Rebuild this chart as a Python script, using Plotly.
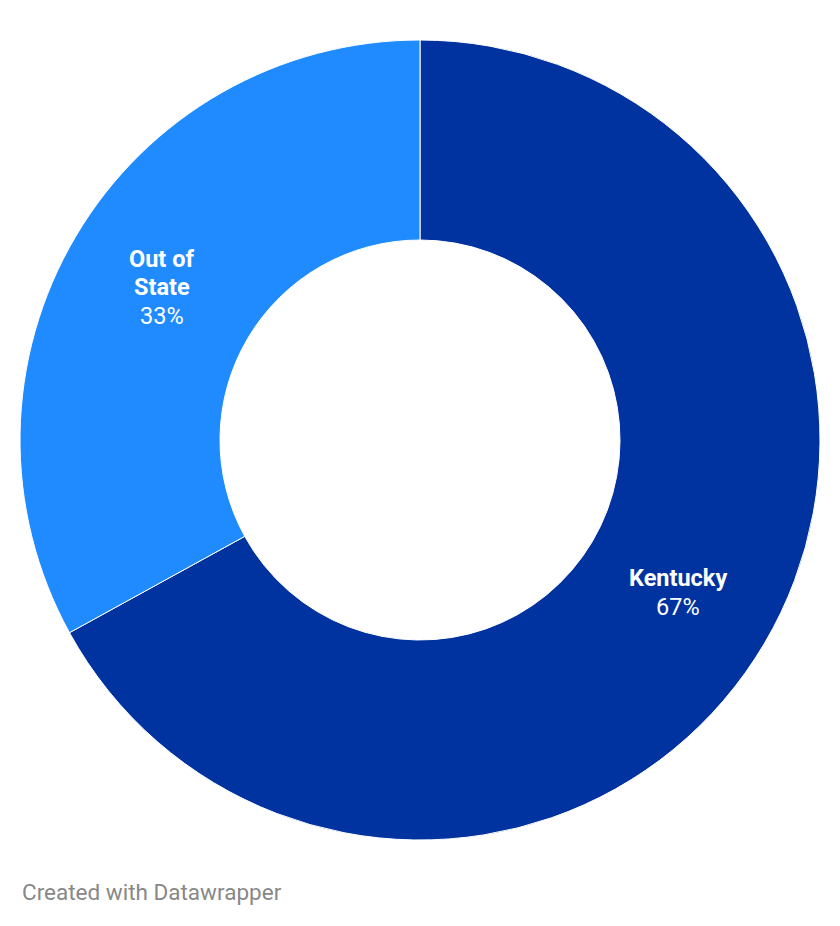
import math
import plotly.graph_objects as go

labels = ["Kentucky", "Out of State"]
label_lines = [["Kentucky"], ["Out of", "State"]]
values = [67, 33]
colors = ["#0033a0", "#1f8bff"]

HOLE = 0.5
LINE_H = 28.5  # px between label lines

fig = go.Figure()
fig.add_trace(go.Pie(
    labels=labels, values=values,
    hole=HOLE, sort=False, direction="clockwise", rotation=0,
    marker=dict(colors=colors, line=dict(color="white", width=1)),
    textinfo="none", hoverinfo="label+percent",
    domain=dict(x=[0, 1], y=[0, 1]),
    showlegend=False,
))

# labels centred in the ring, at each slice's mid-angle
total = sum(values)
cum = 0
mid_r = (1 + HOLE) / 2 * 0.5
for lines, v in zip(label_lines, values):
    ang = (cum + v / 2) / total * 2 * math.pi
    cum += v
    pct = round(v / total * 100)
    rows = [f"<b>{t}</b>" for t in lines] + [f"{pct}%"]
    n = len(rows)
    for i, row in enumerate(rows):
        fig.add_annotation(
            x=0.5 + mid_r * math.sin(ang), y=0.5 + mid_r * math.cos(ang),
            xref="paper", yref="paper", xanchor="center", yanchor="middle",
            yshift=((n - 1) / 2 - i) * LINE_H,
            text=row, showarrow=False,
            font=dict(family="Roboto", size=23.5, color="white"),
        )

# footer, placed in pixels below the plot area
fig.add_annotation(
    x=0, y=0, xref="paper", yref="paper", yshift=-52,
    text="Created with Datawrapper", showarrow=False,
    xanchor="left", yanchor="middle",
    font=dict(family="Roboto", size=22.5, color="#888888"),
)

# page body adds an 8px margin, so margins are trimmed by that amount
fig.update_layout(
    width=840, height=926,
    margin=dict(l=12, r=28, t=32, b=94),
    paper_bgcolor="white", plot_bgcolor="white",
    font=dict(family="Roboto"),
)
fig.write_html("out.html")
